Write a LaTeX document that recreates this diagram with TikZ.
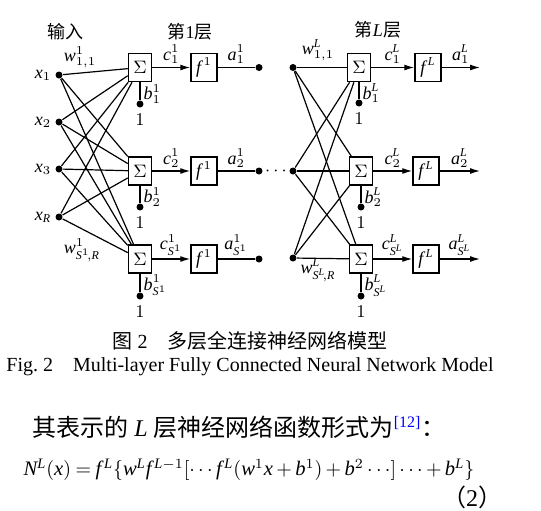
\documentclass[tikz,border=0pt]{standalone}
\usepackage{fontspec}
\setmainfont{Liberation Serif}
\newfontfamily\cjk{Noto Sans CJK SC}
\usetikzlibrary{arrows.meta}
% Times-like letters and digits in math
\DeclareSymbolFont{itletters}{TU}{\rmdefault}{m}{it}
\DeclareSymbolFont{upletters}{TU}{\rmdefault}{m}{n}
\DeclareMathSymbol{a}{\mathalpha}{itletters}{`a}
\DeclareMathSymbol{b}{\mathalpha}{itletters}{`b}
\DeclareMathSymbol{c}{\mathalpha}{itletters}{`c}
\DeclareMathSymbol{f}{\mathalpha}{itletters}{`f}
\DeclareMathSymbol{w}{\mathalpha}{itletters}{`w}
\DeclareMathSymbol{x}{\mathalpha}{itletters}{`x}
\DeclareMathSymbol{L}{\mathalpha}{itletters}{`L}
\DeclareMathSymbol{N}{\mathalpha}{itletters}{`N}
\DeclareMathSymbol{R}{\mathalpha}{itletters}{`R}
\DeclareMathSymbol{S}{\mathalpha}{itletters}{`S}
\DeclareMathSymbol{1}{\mathalpha}{upletters}{`1}
\DeclareMathSymbol{2}{\mathalpha}{upletters}{`2}
\DeclareMathSymbol{3}{\mathalpha}{upletters}{`3}
\newcommand{\actf}[1]{f^{\mkern3mu#1}}

\begin{document}
\begin{tikzpicture}[x=0.5pt, y=-0.5pt, font=\fontsize{9}{10}\selectfont, line width=0.6pt,
			>={Latex[length=5pt,width=3pt]},
			sumbox/.style={draw, line width=0.75pt, inner sep=0pt, minimum width=11.5pt, minimum height=14pt},
			actbox/.style={draw, line width=0.75pt, inner sep=0pt, minimum width=13pt, minimum height=14pt},
			dot/.style={circle, fill, inner sep=0pt, minimum size=3.5pt},
			lbl/.style={font=\fontsize{9}{10}\selectfont, inner sep=1.5pt, draw=none, fill=none}]
		\useasboundingbox (0,0) rectangle (541,510);
		% layer titles
		\node (tin) at (65,32)  {\cjk 输入};
		\node (t1)  at (190,32) {{\cjk 第}1{\cjk 层}};
		\node (tL)  at (378,30) {{\cjk 第}$L${\cjk 层}};
		% inputs
		\node[dot, label={[lbl]left:$x_1$}] (x1) at (59,75)  {};
		\node[dot, label={[lbl]left:$x_2$}] (x2) at (59,122) {};
		\node[dot, label={[lbl]left:$x_3$}] (x3) at (59,169) {};
		\node[dot, label={[lbl]left:$x_R$}] (xR) at (59,217) {};
		% layer 1: summing junctions, transfer functions, outputs
		\node[sumbox] (s11) at (140,67.5) {$\Sigma$};
		\node[sumbox] (s12) at (140,171)  {$\Sigma$};
		\node[sumbox] (s13) at (140,259)  {$\Sigma$};
		\node[actbox] (f11) at (204,67.5) {$\actf{1}$};
		\node[actbox] (f12) at (204,171)  {$\actf{1}$};
		\node[actbox] (f13) at (204,259)  {$\actf{1}$};
		\node[dot] (o11) at (259,67.5) {};
		\node[dot] (o12) at (259,171)  {};
		\node[dot] (o13) at (259,259)  {};
		% layer 1 biases
		\node[dot, label={[lbl, label distance=1pt]below:$1$}] (b11) at (140,104) {};
		\node[dot, label={[lbl, label distance=1pt]below:$1$}] (b12) at (140,207) {};
		\node[dot, label={[lbl, label distance=1pt]below:$1$}] (b13) at (140,296) {};
		% weights of layer 1
		\node[lbl] (w11) at (80,57)  {$w^1_{1,1}$};
		\node[lbl] (w1S) at (82,250) {$w^1_{S^1\!,R}$};
		\draw (x1) -- (s11);
		\draw (x1) -- (s12);
		\draw (x1) -- (s13);
		\draw (x2) -- (s11);
		\draw (x2) -- (s12);
		\draw (x2) -- (s13);
		\draw (x3) -- (s11);
		\draw (x3) -- (s12);
		\draw (x3) -- (s13);
		\draw (xR) -- (s11);
		\draw (xR) -- (s12);
		\draw (xR) -- (s13);
		\draw (s11) -- (b11) node[lbl, pos=0.65, right] {$b^1_1$};
		\draw (s12) -- (b12) node[lbl, pos=0.65, right] {$b^1_2$};
		\draw (s13) -- (b13) node[lbl, pos=0.65, right] {$b^1_{S^1}$};
		\draw[->] (s11) -- (f11) node[lbl, midway, above] {$c^1_1$};
		\draw[->] (s12) -- (f12) node[lbl, midway, above] {$c^1_2$};
		\draw[->] (s13) -- (f13) node[lbl, midway, above] {$c^1_{S^1}$};
		\draw (f11) -- (o11) node[lbl, midway, above] {$a^1_1$};
		\draw (f12) -- (o12) node[lbl, midway, above] {$a^1_2$};
		\draw (f13) -- (o13) node[lbl, midway, above] {$a^1_{S^1}$};
		\node (gap) at (276,171) {$\cdots$};
		% layer L inputs
		\node[dot] (d1) at (293,67.5) {};
		\node[dot] (d2) at (293,171)  {};
		\node[dot] (d3) at (293,258)  {};
		% layer L: summing junctions, transfer functions, outputs
		\node[sumbox] (sL1) at (359,67.5) {$\Sigma$};
		\node[sumbox] (sL2) at (361,171)  {$\Sigma$};
		\node[sumbox] (sL3) at (361,259)  {$\Sigma$};
		\node[actbox] (fL1) at (428,67.5) {$\actf{L}$};
		\node[actbox] (fL2) at (426,171)  {$\actf{L}$};
		\node[actbox] (fL3) at (426,259)  {$\actf{L}$};
		\coordinate (e1) at (480,67.5);
		\coordinate (e2) at (480,171);
		\coordinate (e3) at (480,259);
		% layer L biases
		\node[dot, label={[lbl, label distance=1pt]below:$1$}] (bL1) at (359,103) {};
		\node[dot, label={[lbl, label distance=1pt]below:$1$}] (bL2) at (361,207) {};
		\node[dot, label={[lbl, label distance=1pt]below:$1$}] (bL3) at (361,296) {};
		% weights of layer L
		\node[lbl] (wL1) at (318,50)  {$w^L_{1,1}$};
		\node[lbl] (wLS) at (318,270) {$w^L_{S^L\!,R}$};
		\draw (d1) -- (sL1);
		\draw (d1) -- (sL2);
		\draw (d1) -- (sL3);
		\draw (d2) -- (sL1);
		\draw (d2) -- (sL2);
		\draw (d2) -- (sL3);
		\draw (d3) -- (sL1);
		\draw (d3) -- (sL2);
		\draw (d3) -- (sL3);
		\draw (sL1) -- (bL1) node[lbl, pos=0.65, right] {$b^L_1$};
		\draw (sL2) -- (bL2) node[lbl, pos=0.65, right] {$b^L_2$};
		\draw (sL3) -- (bL3) node[lbl, pos=0.65, right] {$b^L_{S^L}$};
		\draw[->] (sL1) -- (fL1) node[lbl, midway, above] {$c^L_1$};
		\draw[->] (sL2) -- (fL2) node[lbl, midway, above] {$c^L_2$};
		\draw[->] (sL3) -- (fL3) node[lbl, midway, above] {$c^L_{S^L}$};
		\draw[->] (fL1) -- (e1) node[lbl, midway, above] {$a^L_1$};
		\draw[->] (fL2) -- (e2) node[lbl, midway, above] {$a^L_2$};
		\draw[->] (fL3) -- (e3) node[lbl, midway, above] {$a^L_{S^L}$};
		% caption and text below
		\node (cap1) at (250,341) {\fontsize{10}{12}\selectfont{\cjk 图}~2\quad{\cjk 多层全连接神经网络模型}};
		\node (cap2) at (250,367) {\fontsize{10}{12}\selectfont Fig.~2\quad Multi-layer Fully Connected Neural Network Model};
		\node (txt)  at (239,427) {\fontsize{12}{14}\selectfont{\cjk 其表示的}~$L$~{\cjk 层神经网络函数形式为}\textsuperscript{\color{blue}[12]}{\cjk ：}};
		\node (eq)   at (249,470) {\fontsize{10.3}{12}\selectfont\medmuskip=3mu\thickmuskip=4mu$N^L(x)=\actf{L}\{w^L\actf{L-1}[\cdots\actf{L}(w^1x+b^1)+b^2\cdots]\cdots+b^L\}$};
		\node (eqno) at (472,497) {\fontsize{12}{14}\selectfont{\cjk （}2{\cjk ）}};
	\end{tikzpicture}
\end{document}
